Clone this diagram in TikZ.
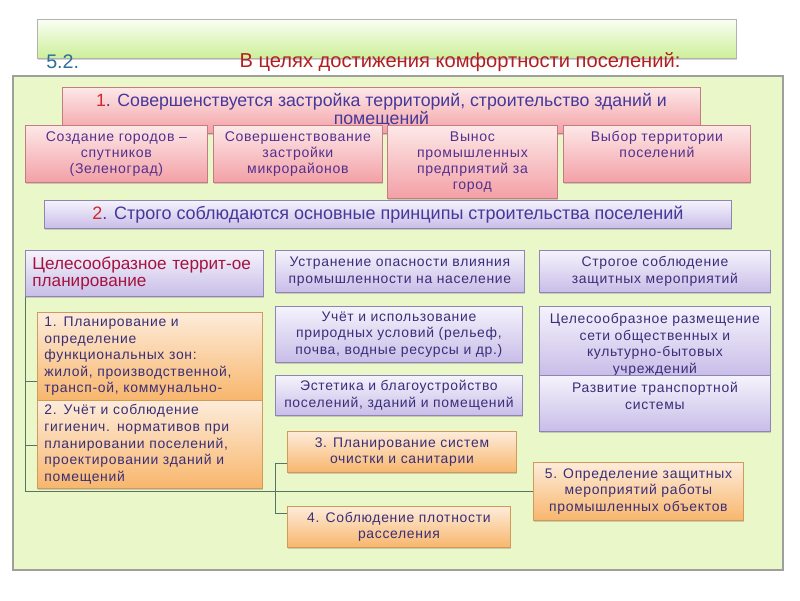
\documentclass[tikz,border=0pt]{standalone}
\usepackage{fontspec}
\setmainfont{Liberation Sans}
\newfontfamily\spacedf{Liberation Sans}[LetterSpace=5]
\usetikzlibrary{shadows}

\definecolor{panelgreen}{HTML}{EAF7C9}
\definecolor{bartop}{HTML}{FAFEF2}
\definecolor{barbot}{HTML}{CDEF9A}
\definecolor{pinktop}{HTML}{FDE8E8}
\definecolor{pinkbot}{HTML}{F3A0A6}
\definecolor{pinkline}{HTML}{C47C80}
\definecolor{lavtop}{HTML}{F5F3FC}
\definecolor{lavbot}{HTML}{C8BDE8}
\definecolor{lavline}{HTML}{8E84B8}
\definecolor{ortop}{HTML}{FDECDA}
\definecolor{orbot}{HTML}{F8B66C}
\definecolor{orline}{HTML}{CF9A5A}
\definecolor{txtblue}{HTML}{45389A}
\definecolor{txtpurple}{HTML}{53308F}
\definecolor{txtnavy}{HTML}{3A2E78}
\definecolor{titlered}{HTML}{B41E1E}
\definecolor{numred}{HTML}{D02828}
\definecolor{numteal}{HTML}{2F6E9C}
\definecolor{plancol}{HTML}{A5123E}
\definecolor{linkgray}{HTML}{557565}

\newcommand\px{0.025cm}

\begin{document}
\begin{tikzpicture}[x=0.025cm, y=-0.025cm,
	every node/.style={inner sep=0pt},
	shadowed/.style={drop shadow={opacity=0.35, shadow xshift=0.5pt, shadow yshift=-1.3pt}},
	pinkbox/.style={shadowed, draw=pinkline, line width=0.6pt, top color=pinktop, bottom color=pinkbot, anchor=north west, align=center, text=txtpurple},
	lavbox/.style={shadowed, draw=lavline, line width=0.6pt, top color=lavtop, bottom color=lavbot, anchor=north west, align=center, text=txtnavy},
	orbox/.style={shadowed, draw=orline, line width=0.6pt, top color=ortop, bottom color=orbot, anchor=north west, align=center, text=txtnavy},
	toptxt/.style={font=\spacedf\fontsize{10}{11.4}\selectfont},
	lowtxt/.style={font=\spacedf\fontsize{9.9}{11.8}\selectfont},
	inlabel/.style={anchor=north, align=center, yshift=-4pt},
	link/.style={draw=linkgray, line width=0.6pt}]
	\useasboundingbox (0,0) rectangle (800,600);
	% heading
	\node[shadowed, draw=gray!60, top color=bartop, bottom color=barbot, anchor=north west, minimum width=699*\px, minimum height=39*\px] (bar) at (37,19) {};
	\node[anchor=base west, text=numteal, font=\fontsize{14}{16}\selectfont] (num) at (46,68) {5.2.};
	\node[anchor=base, text=titlered, font=\fontsize{14.3}{16}\selectfont] (title) at (460,67) {В целях достижения комфортности поселений:};
	% panel
	\draw[draw=gray!75, line width=1pt, fill=panelgreen] (13,76) rectangle (783,570);
	% first group
	\node[pinkbox, minimum width=638*\px, minimum height=46*\px, text=txtblue, font=\fontsize{12.6}{13}\selectfont] (s1) at (62,87) {\textcolor{numred}{1}. Совершенствуется застройка  территорий, строительство зданий и\\помещений};
	\node[pinkbox, toptxt, minimum width=182*\px, minimum height=57*\px] (sa) at (25,125) {Создание городов –\\спутников\\(Зеленоград)};
	\node[pinkbox, toptxt, minimum width=169*\px, minimum height=57*\px] (sb) at (213,125) {Совершенствование\\застройки\\микрорайонов};
	\node[pinkbox, toptxt, minimum width=170*\px, minimum height=73*\px] (sc) at (387,125) {Вынос\\промышленных\\предприятий за\\город};
	\node[pinkbox, minimum width=187*\px, minimum height=57*\px, label={[inlabel, toptxt, text=txtpurple]north:Выбор территории\\поселений}] (sd) at (563,125) {};
	% second group
	\node[lavbox, minimum width=687*\px, minimum height=28*\px, text=txtblue, font=\fontsize{12.8}{14}\selectfont] (s2) at (44,200) {\textcolor{numred}{2}. Строго соблюдаются основные принципы строительства поселений};
	\node[lavbox, minimum width=238*\px, minimum height=46*\px, text width=224*\px, align=left, text=plancol, font=\fontsize{12.2}{12.6}\selectfont] (plan) at (25,250) {Целесообразное террит-ое\\планирование};
	\node[lavbox, lowtxt, minimum width=249*\px, minimum height=42*\px] (m1) at (275,250) {Устранение опасности влияния\\промышленности на население};
	\node[lavbox, lowtxt, minimum width=247*\px, minimum height=56*\px] (m2) at (275,306) {Учёт и использование\\природных условий  (рельеф,\\почва, водные ресурсы и др.)};
	\node[lavbox, lowtxt, minimum width=247*\px, minimum height=40*\px] (m3) at (275,375) {Эстетика и благоустройство\\поселений, зданий и помещений};
	\node[lavbox, lowtxt, minimum width=231*\px, minimum height=42*\px] (r1) at (539,250) {Строгое соблюдение\\защитных мероприятий};
	\node[lavbox, minimum width=231*\px, minimum height=69*\px, label={[inlabel, lowtxt, text=txtnavy, yshift=-1pt]north:Целесообразное размещение\\сети общественных и\\культурно-бытовых\\учреждений}] (r2) at (539,306) {};
	\node[lavbox, minimum width=231*\px, minimum height=56*\px, label={[inlabel, lowtxt, text=txtnavy, yshift=-1pt]north:Развитие транспортной\\системы}] (r3) at (539,375) {};
	% orange boxes
	\node[orbox, lowtxt, minimum width=225*\px, minimum height=88*\px, text width=211*\px, align=left] (o1) at (37,312) {1. Планирование  и\\определение\\функциональных зон:\\жилой, производственной,\\трансп-ой, коммунально-};
	\node[orbox, lowtxt, minimum width=225*\px, minimum height=88*\px, text width=211*\px, align=left] (o2) at (37,400) {2. Учёт и соблюдение\\гигиенич. нормативов  при\\планировании поселений,\\проектировании зданий и\\помещений};
	\node[orbox, lowtxt, minimum width=229*\px, minimum height=41*\px] (o3) at (287,431) {3. Планирование систем\\очистки и санитарии};
	\node[orbox, lowtxt, minimum width=223*\px, minimum height=41*\px] (o4) at (287,506) {4. Соблюдение плотности\\расселения};
	\node[orbox, lowtxt, minimum width=210*\px, minimum height=58*\px] (o5) at (533,462) {5. Определение  защитных\\мероприятий работы\\промышленных объектов};
	% tree lines
	\coordinate (t1) at ([yshift=19*\px]o1.south west);
	\coordinate (t2) at ([yshift=43*\px]o2.south west);
	\coordinate (t3) at ([yshift=9*\px]o3.south west);
	\coordinate (t4) at ([yshift=-7*\px]o4.north west);
	\draw[link] (plan.south west) -- (plan.south west |- o5.west) -- (o5.west);
	\draw[link] (plan.south west |- t1) -- (t1);
	\draw[link] (plan.south west |- t2) -- (t2);
	\draw[link] (t3) -- ++(-12,0) |- (t4);
\end{tikzpicture}
\end{document}
